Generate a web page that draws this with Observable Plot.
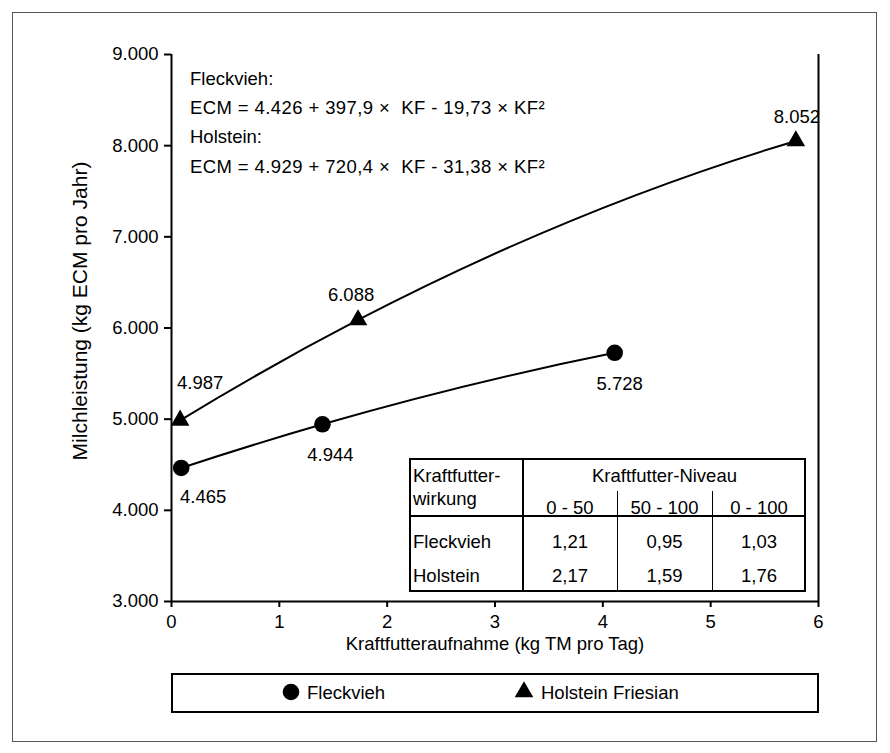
<!DOCTYPE html>
<html>
<head>
<meta charset="utf-8">
<script src="https://cdn.jsdelivr.net/npm/d3@7"></script>
<script src="https://cdn.jsdelivr.net/npm/@observablehq/plot@0.6"></script>
<style>
  html, body { margin: 0; padding: 0; background: #fff; }
  #wrap { position: relative; width: 890px; height: 753px; overflow: hidden;
          font-family: "Liberation Sans", Arial, sans-serif; color: #000; font-size: 18px; }
  #wrap svg.plot { position: absolute; left: 0; top: 0; }
  #frame { position: absolute; left: 12px; top: 12px; width: 865px; height: 730px;
           border: 1px solid #555; box-sizing: border-box; pointer-events: none; }
  .t { position: absolute; white-space: pre; line-height: 18px; font-size: 18.5px; }
  .eq { letter-spacing: 0.4px; }
  .c { transform: translateX(-50%); }
  .ln { position: absolute; background: #000; }
  #legend { position: absolute; left: 171px; top: 673px; width: 648px; height: 40px;
            border: 2px solid #000; box-sizing: border-box; background: #fff; }
</style>
</head>
<body>
<div id="wrap"><div id="frame"></div></div>
<script>
// ---------- data ----------
const xTicks = [0, 1, 2, 3, 4, 5, 6];
const yTicks = [3000, 4000, 5000, 6000, 7000, 8000, 9000];
const fleckviehX = [0.09, 1.40, 4.11];
const fleckviehY = [4465, 4944, 5728];
const holsteinX = [0.08, 1.73, 5.79];
const holsteinY = [4987, 6088, 8052];
const seriesNames = ["Fleckvieh", "Holstein Friesian"];
const equationTitles = ["Fleckvieh:", "Holstein:"];
const equations = ["ECM = 4.426 + 397,9 \u00d7  KF - 19,73 \u00d7 KF\u00b2",
                   "ECM = 4.929 + 720,4 \u00d7  KF - 31,38 \u00d7 KF\u00b2"];
const tableCorner = ["Kraftfutter-", "wirkung"];
const tableGroup = "Kraftfutter-Niveau";
const tableCols = ["0 - 50", "50 - 100", "0 - 100"];
const tableRows = ["Fleckvieh", "Holstein"];
const fleckviehEffect = ["1,21", "0,95", "1,03"];
const holsteinEffect = ["2,17", "1,59", "1,76"];
const xLabel = "Kraftfutteraufnahme (kg TM pro Tag)";
const yLabel = "Milchleistung (kg ECM pro Jahr)";

// ---------- build ----------
const fmt = d => d3.format(",")(d).replace(/,/g, ".");
const fv = fleckviehX.map((x, i) => ({x, y: fleckviehY[i]}));
const hf = holsteinX.map((x, i) => ({x, y: holsteinY[i]}));
const font = '"Liberation Sans", Arial, sans-serif';

// Curve factory: second-order polynomial trend line through three points
// (drawn as exact quadratic Bézier pieces), as in the spreadsheet original.
function curveQuadratic(context) {
  let pts = [];
  return {
    areaStart() {}, areaEnd() {},
    lineStart() { pts = []; },
    point(x, y) { pts.push([+x, +y]); },
    lineEnd() {
      if (pts.length < 3) {
        pts.forEach((p, i) => i ? context.lineTo(p[0], p[1]) : context.moveTo(p[0], p[1]));
        return;
      }
      const [[x0, y0], [x1, y1], [x2, y2]] = pts;
      const s0 = (y1 - y0) / (x1 - x0), s1 = (y2 - y1) / (x2 - x1);
      const a = (s1 - s0) / (x2 - x0);
      const slope = x => s0 + a * (2 * x - x0 - x1);
      context.moveTo(x0, y0);
      for (let k = 0; k < pts.length - 1; k++) {
        const [xa, ya] = pts[k], [xb, yb] = pts[k + 1];
        context.quadraticCurveTo((xa + xb) / 2, ya + slope(xa) * (xb - xa) / 2, xb, yb);
      }
    }
  };
}

// label offsets (style, px)
const fvOff = [[22, 29], [8, 31], [5, 31]];
const hfOff = [[20, -37], [-7, -25], [1, -24]];

const labelMarks = [];
fv.forEach((d, i) => labelMarks.push(Plot.text([d], {x: "x", y: "y", text: d => fmt(d.y),
  dx: fvOff[i][0], dy: fvOff[i][1], fill: "#000", fontSize: 18.5, lineAnchor: "middle"})));
hf.forEach((d, i) => labelMarks.push(Plot.text([d], {x: "x", y: "y", text: d => fmt(d.y),
  dx: hfOff[i][0], dy: hfOff[i][1], fill: "#000", fontSize: 18.5, lineAnchor: "middle"})));

const chart = Plot.plot({
  width: 890, height: 753,
  marginLeft: 171, marginRight: 72, marginTop: 54, marginBottom: 152,
  style: {fontFamily: font, fontSize: "18.5px", color: "#000", background: "transparent", overflow: "visible"},
  x: {domain: [0, 6], label: null},
  y: {domain: [3000, 9000], label: null},
  marks: [
    Plot.axisY({ticks: yTicks, tickFormat: fmt, tickSize: 7, tickPadding: 6, strokeWidth: 2, label: null, fontSize: 18.5}),
    Plot.axisX({ticks: xTicks, tickFormat: d => String(d), tickSize: 6, tickPadding: 7, strokeWidth: 2, label: null, fontSize: 18.5}),
    Plot.ruleX([0], {stroke: "#000", strokeWidth: 2}),
    Plot.ruleX([6], {stroke: "#000", strokeWidth: 2}),
    Plot.ruleY([3000], {stroke: "#000", strokeWidth: 2}),
    Plot.text([xLabel], {frameAnchor: "bottom", dy: 43, text: d => d, fontSize: 18.5, fill: "#000", lineAnchor: "middle", textAnchor: "middle"}),
    Plot.text([yLabel], {frameAnchor: "left", dx: -91, dy: -17, rotate: -90, text: d => d, fontSize: 21, fill: "#000", lineAnchor: "middle", textAnchor: "middle"}),
    Plot.line(fv, {x: "x", y: "y", curve: curveQuadratic, stroke: "#000", strokeWidth: 2}),
    Plot.line(hf, {x: "x", y: "y", curve: curveQuadratic, stroke: "#000", strokeWidth: 2}),
    Plot.dot(fv, {x: "x", y: "y", r: 8.3, fill: "#000", stroke: "none", symbol: "circle"}),
    Plot.dot(hf, {x: "x", y: "y", r: 6.9, fill: "#000", stroke: "none", symbol: "triangle"}),
    ...labelMarks
  ]
});
chart.classList.add("plot");
const wrap = document.getElementById("wrap");
wrap.insertBefore(chart, wrap.firstChild);

// helpers for overlays
function txt(parent, s, x, baseline, center, cls = "") {
  const el = document.createElement("div");
  el.className = "t" + (center ? " c" : "") + (cls ? " " + cls : "");
  el.textContent = s;
  el.style.left = x + "px";
  el.style.top = (baseline - 15.4) + "px";
  parent.appendChild(el);
  return el;
}
function line(parent, x, y, w, h) {
  const el = document.createElement("div");
  el.className = "ln";
  el.style.left = x + "px"; el.style.top = y + "px";
  el.style.width = w + "px"; el.style.height = h + "px";
  parent.appendChild(el);
}

// equations
const eqBase = [85, 114, 143, 173];
txt(wrap, equationTitles[0], 190, eqBase[0], false);
txt(wrap, equations[0], 190, eqBase[1], false, "eq");
txt(wrap, equationTitles[1], 190, eqBase[2], false);
txt(wrap, equations[1], 190, eqBase[3], false, "eq");

// table
const T = {l: 409, r: 806, t: 458, b: 592};
const colX = [T.l, 523, 617, 712, T.r];
const hdrY = 491, midY = 516;
line(wrap, T.l, T.t, T.r - T.l, 2);
line(wrap, T.l, T.b - 2, T.r - T.l, 2);
line(wrap, T.l, T.t, 2, T.b - T.t);
line(wrap, T.r - 2, T.t, 2, T.b - T.t);
line(wrap, colX[1] - 1, T.t, 2, T.b - T.t);
line(wrap, colX[2] - 0.5, hdrY, 1.5, T.b - hdrY);
line(wrap, colX[3] - 0.5, hdrY, 1.5, T.b - hdrY);
line(wrap, T.l, midY - 1, T.r - T.l, 2);
txt(wrap, tableCorner[0], 413, 482, false);
txt(wrap, tableCorner[1], 413, 505, false);
txt(wrap, tableGroup, (colX[1] + colX[4]) / 2, 482, true);
tableCols.forEach((s, j) => txt(wrap, s, (colX[j + 1] + colX[j + 2]) / 2, 514, true));
const rowBase = [548, 582];
[fleckviehEffect, holsteinEffect].forEach((vals, r) => {
  txt(wrap, tableRows[r], 413, rowBase[r], false);
  vals.forEach((s, j) => txt(wrap, s, (colX[j + 1] + colX[j + 2]) / 2, rowBase[r], true));
});

// legend
const legend = document.createElement("div");
legend.id = "legend";
wrap.appendChild(legend);
const lg = d3.select(legend).append("svg").attr("width", 644).attr("height", 36)
  .style("position", "absolute").style("left", "0px").style("top", "0px");
const symCircle = d3.symbol(d3.symbolCircle, Math.PI * 8.3 * 8.3)();
const symTri = d3.symbol(d3.symbolTriangle, Math.PI * 6.9 * 6.9)();
const legX = [291, 524], legTextX = [307, 541];
[symCircle, symTri].forEach((p, i) => {
  lg.append("path").attr("d", p).attr("fill", "#000")
    .attr("transform", `translate(${legX[i] - 173},${692 - 675})`);
  lg.append("text").attr("x", legTextX[i] - 173).attr("y", 698.5 - 675)
    .attr("font-family", font).attr("font-size", 18.5).text(seriesNames[i]);
});
</script>
</body>
</html>
